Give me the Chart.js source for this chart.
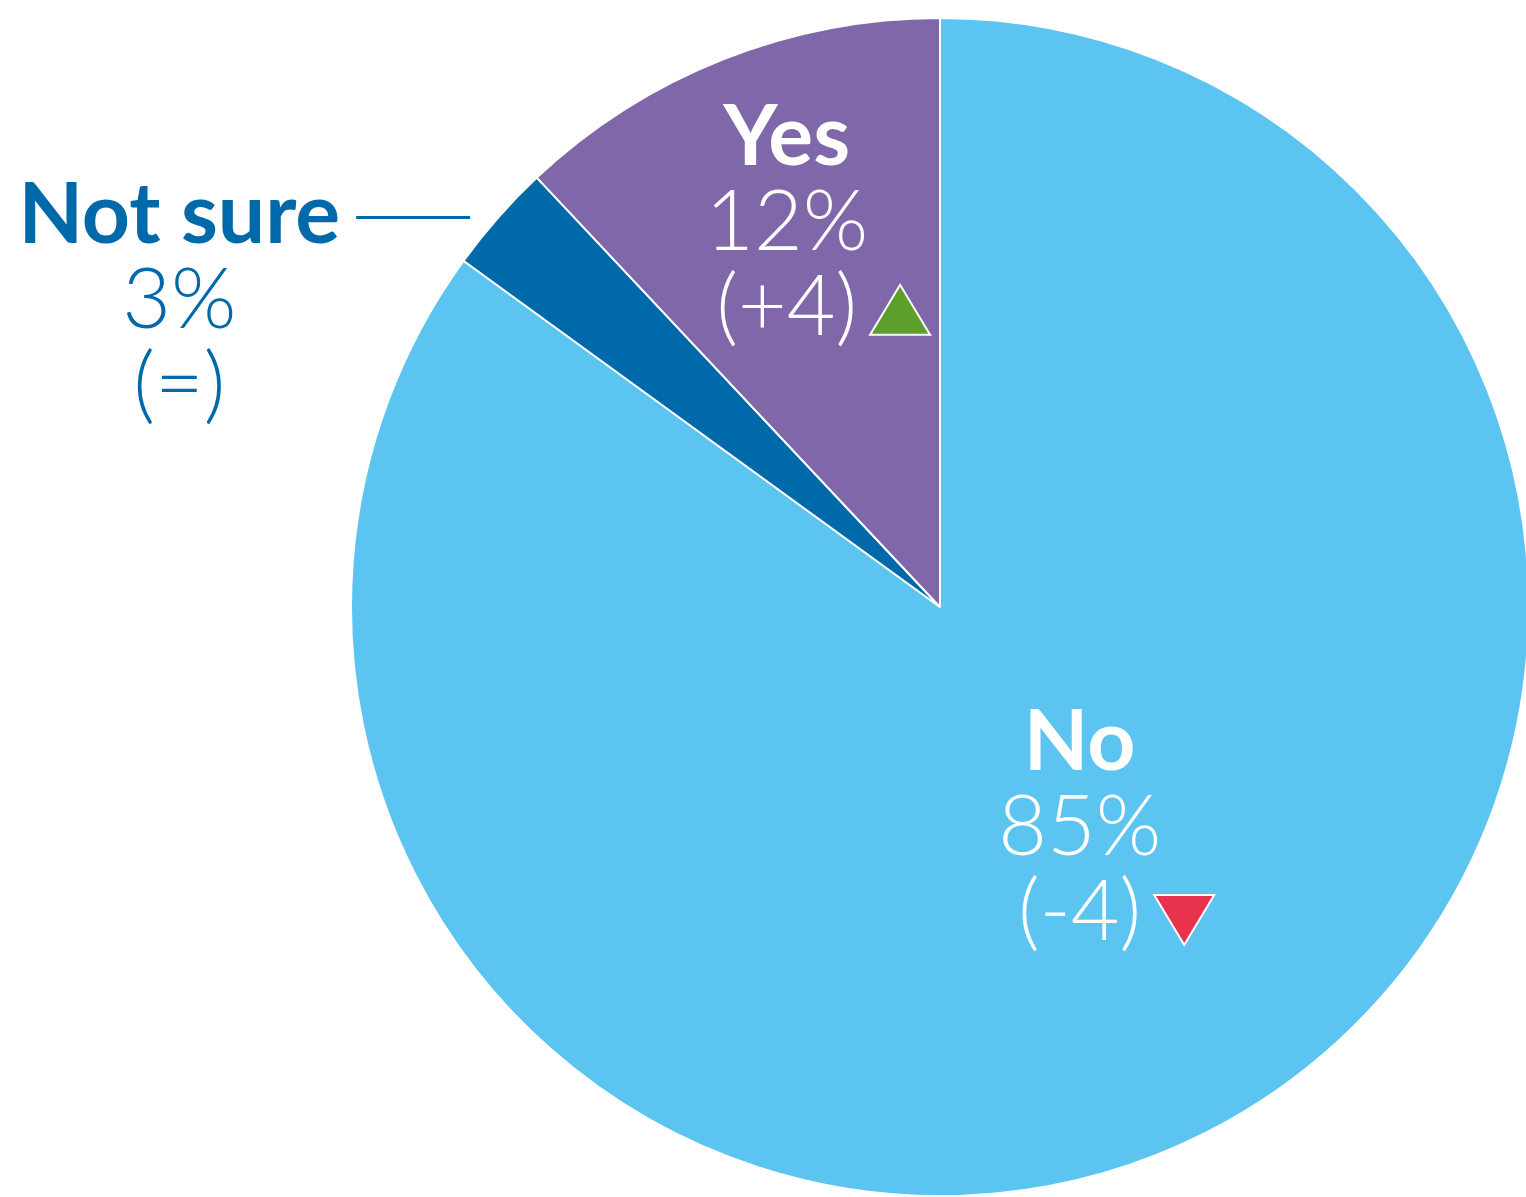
<!DOCTYPE html>
<html>
<head>
<meta charset="utf-8">
<title>Pie chart</title>
<script src="https://cdn.jsdelivr.net/npm/chart.js@4"></script>
<style>
  html, body { margin: 0; padding: 0; background: #fff; overflow: hidden; }
  #wrap { position: relative; width: 1530px; height: 1200px; }
</style>
</head>
<body>
<div id="wrap"><canvas id="pieChart"></canvas></div>
<script>
// Chart data
const labels = ['No', 'Not sure', 'Yes'];
const values = [85, 3, 12];
const changes = ['(-4)', '(=)', '(+4)'];
const trends = ['down', 'same', 'up'];
const colors = ['#5BC4F1', '#0069AA', '#7F67AA'];

const FONT = 'Lato, "Noto Sans", sans-serif';

// Draw a small trend triangle with white outline
function drawTriangle(ctx, x, baseY, dir) {
  const w = 60, h = 50;
  ctx.save();
  ctx.beginPath();
  if (dir === 'up') {
    ctx.moveTo(x, baseY);
    ctx.lineTo(x + w, baseY);
    ctx.lineTo(x + w / 2, baseY - h);
    ctx.fillStyle = '#5E9E2A';
  } else {
    ctx.moveTo(x, baseY - h);
    ctx.lineTo(x + w, baseY - h);
    ctx.lineTo(x + w / 2, baseY);
    ctx.fillStyle = '#E8334E';
  }
  ctx.closePath();
  ctx.fill();
  ctx.strokeStyle = '#fff';
  ctx.lineWidth = 2;
  ctx.stroke();
  ctx.restore();
}

// Labels plugin
const pieLabels = {
  id: 'pieLabels',
  afterDatasetsDraw(chart) {
    const ctx = chart.ctx;
    const meta = chart.getDatasetMeta(0);
    const lineH = 85;

    meta.data.forEach((arc, i) => {
      const p = arc.getProps(['x', 'y', 'startAngle', 'endAngle', 'outerRadius'], true);
      const mid = (p.startAngle + p.endAngle) / 2;
      const name = labels[i];
      const pct = values[i] + '%';

      ctx.save();
      ctx.textBaseline = 'alphabetic';

      if (name === 'Not sure') {
        // outside label with leader line
        const ex = p.x + Math.cos(mid) * p.outerRadius;
        const ey = p.y + Math.sin(mid) * p.outerRadius;
        ctx.strokeStyle = colors[i];
        ctx.lineWidth = 3;
        ctx.beginPath();
        ctx.moveTo(ex - 28, ey);
        ctx.lineTo(ex - 142, ey);
        ctx.stroke();

        ctx.fillStyle = colors[i];
        ctx.font = 'bold 84px ' + FONT;
        ctx.textAlign = 'right';
        ctx.fillText(name, ex - 158, ey + 26);
        const nameW = ctx.measureText(name).width;
        const cx = ex - 158 - nameW / 2;
        ctx.textAlign = 'center';
        ctx.font = '300 84px ' + FONT;
        ctx.fillText(pct, cx, ey + 26 + lineH);
        ctx.fillText(changes[i], cx, ey + 26 + lineH * 2);
      } else {
        // inside label: polar anchor plus a small nudge
        const factor = name === 'Yes' ? 0.707 : 0.44;
        const nudge = name === 'Yes' ? [0, 0] : [22, -13];
        const cx = p.x + Math.cos(mid) * p.outerRadius * factor + nudge[0];
        const cy = p.y + Math.sin(mid) * p.outerRadius * factor + nudge[1];
        const base = cy - lineH + 30;
        ctx.fillStyle = '#fff';
        ctx.textAlign = 'center';
        ctx.font = 'bold 84px ' + FONT;
        ctx.fillText(name, cx, base);
        ctx.font = '300 84px ' + FONT;
        ctx.fillText(pct, cx, base + lineH);
        ctx.fillText(changes[i], cx, base + lineH * 2);
        const chW = ctx.measureText(changes[i]).width;
        drawTriangle(ctx, cx + chW / 2 + 13, base + lineH * 2 + (trends[i] === 'up' ? 0 : 5), trends[i]);
      }
      ctx.restore();
    });
  }
};

const ctx = document.getElementById('pieChart').getContext('2d');
new Chart(ctx, {
  type: 'pie',
  data: {
    labels: labels,
    datasets: [{
      data: values,
      backgroundColor: colors,
      borderColor: '#fff',
      borderWidth: 2
    }]
  },
  options: {
    responsive: true,
    maintainAspectRatio: false,
    animation: false,
    layout: {
      padding: { left: 350, top: 17, right: 0, bottom: 3 }
    },
    plugins: {
      legend: { display: false },
      tooltip: { enabled: false }
    }
  },
  plugins: [pieLabels]
});
</script>
</body>
</html>
